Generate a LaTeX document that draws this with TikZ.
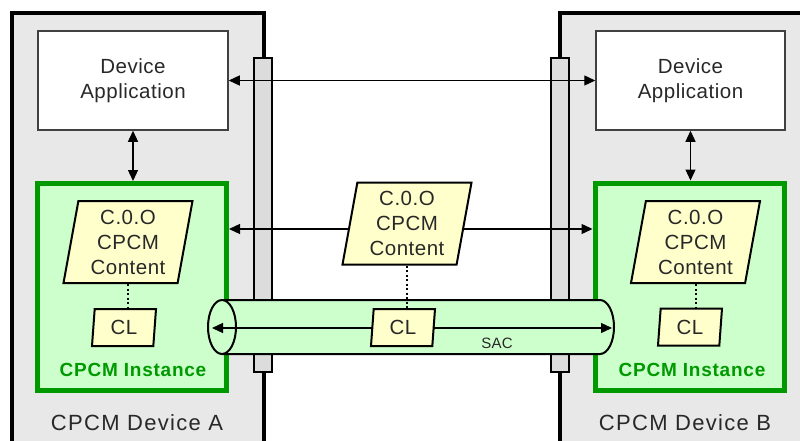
\documentclass[tikz,border=0pt]{standalone}
\usepackage{fontspec}
\setmainfont{Liberation Sans}
\usetikzlibrary{arrows.meta,calc,shapes.geometric}
\definecolor{devgray}{HTML}{E8E8E8}
\definecolor{bargray}{HTML}{DCDCDC}
\definecolor{insfill}{HTML}{CCFFCC}
\definecolor{insline}{HTML}{009900}
\definecolor{cfill}{HTML}{FFFFCC}
\definecolor{txtgray}{HTML}{282828}
\begin{document}
\begin{tikzpicture}[x=1pt,y=-1pt,
  font=\fontsize{20.5}{25}\selectfont\addfontfeature{LetterSpace=2.5},
  devline/.style={line width=4pt, line join=miter},
  bar/.style={draw=black, fill=bargray, line width=1.2pt, minimum width=18pt, minimum height=314pt, inner sep=0pt},
  app/.style={draw=black!75, fill=white, line width=1.5pt, minimum height=99pt, align=center, inner sep=0pt, text=txtgray},
  inst/.style={draw=insline, fill=insfill, line width=5pt, minimum width=189pt, minimum height=207pt, inner sep=0pt},
  para/.style={trapezium, trapezium stretches body, draw=black, fill=cfill, line width=2pt, inner sep=0pt, align=center, text=txtgray},
  content/.style={para, trapezium left angle=77, trapezium right angle=103, minimum width=129pt, minimum height=82pt},
  clbox/.style={para, trapezium left angle=79.5, trapezium right angle=100.5, minimum width=64pt, minimum height=37pt},
  arrow/.style={line width=1.3pt, -{Triangle[length=11pt,width=10pt]}},
  darrow/.style={line width=1.3pt, {Triangle[length=11pt,width=10pt]}-{Triangle[length=11pt,width=10pt]}},
  dotline/.style={line width=2pt, dash pattern=on 2pt off 2.5pt},
  cyl/.style={draw=black, fill=insfill, line width=2pt},
  lbl/.style={font=\fontsize{22}{26}\selectfont\addfontfeature{LetterSpace=6}, text=txtgray},
  instlbl/.style={font=\fontsize{19}{22}\selectfont\bfseries\addfontfeature{LetterSpace=4}, text=insline}
]
\useasboundingbox (0,0) rectangle (800,441);
\fill[white] (0,0) rectangle (800,441);
% devices
\fill[devgray] (12,13) rectangle (264,445);
\draw[devline] (12,446) -- (12,13) -- (264,13) -- (264,446);
\fill[devgray] (560,13) rectangle (805,445);
\draw[devline] (560,446) -- (560,13) -- (806,13);
\node[lbl] (devA) at (137,423) {CPCM Device A};
\node[lbl] (devB) at (685,423) {CPCM Device B};
% bars
\node[bar] (barA) at (263,215) {};
\node[bar] (barB) at (560,215) {};
% applications
\node[app, minimum width=190pt] (appA) at (133,80.5) {Device\\Application};
\node[app, minimum width=189pt] (appB) at (690.5,80.5) {Device\\Application};
% instances
\node[inst] (instA) at (132,287) {};
\node[inst] (instB) at (689.5,286.5) {};
\node[instlbl] (ilA) at (133,370) {CPCM Instance};
\node[instlbl] (ilB) at (692,370) {CPCM Instance};
% arrows
\draw[darrow] (appA.east) -- (appB.west);
\draw[darrow] (appA.south) -- (appA.south |- instA.north);
\draw[darrow] (appB.south) -- (appB.south |- instB.north);
\coordinate (m) at (408,229);
\draw[arrow] (m) -- (m -| instA.east);
\draw[arrow] (m) -- (m -| instB.west);
% cylinder
\filldraw[cyl] (222,300) -- (600,300) arc[start angle=90, end angle=-90, x radius=14pt, y radius=27pt] -- (222,354);
\filldraw[cyl] (222,327) ellipse[x radius=14pt, y radius=27pt];
\coordinate (sacL) at (212,328);
\coordinate (sacR) at (612,328);
\coordinate (sacM) at (403,328);
\draw[arrow] (sacM) -- (sacL);
\draw[arrow] (sacM) -- (sacR);
\node[font=\fontsize{15}{18}\selectfont\addfontfeature{LetterSpace=2}, text=txtgray] (sac) at (497,343) {SAC};
% content and CL
\node[content] (cA) at (128,242) {C.0.O\\CPCM\\Content};
\node[clbox] (clA) at (124,327.5) {CL};
\node[content] (cM) at (407,223.5) {C.0.O\\CPCM\\Content};
\node[clbox] (clM) at (403,327.5) {CL};
\node[content] (cB) at (695.5,242) {C.0.O\\CPCM\\Content};
\node[clbox] (clB) at (690,327) {CL};
\draw[dotline] (cA.center |- cA.south) -- (cA.center |- clA.north);
\draw[dotline] (cM.center |- cM.south) -- (cM.center |- clM.north);
\draw[dotline] (cB.center |- cB.south) -- (cB.center |- clB.north);
\end{tikzpicture}
\end{document}
